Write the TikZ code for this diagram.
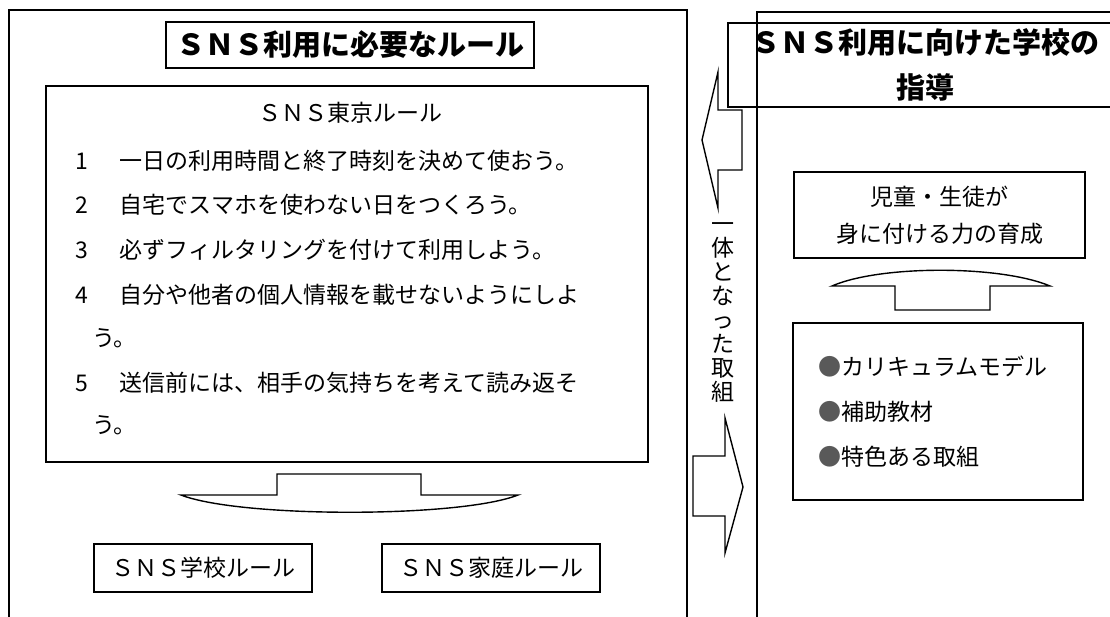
\documentclass[tikz,border=0pt]{standalone}
\usepackage{fontspec}
\setmainfont{Noto Sans CJK JP}
\tikzset{
  frame/.style={draw, line width=1.2pt},
  box/.style={draw, line width=1.2pt, inner sep=0pt},
  txt/.style={font=\fontsize{23}{28}\selectfont, inner sep=0pt},
  head/.style={font=\fontsize{29}{45}\selectfont\bfseries, inner sep=0pt},
  blockarrow/.style={draw, line width=1.4pt, line join=miter},
}

\begin{document}
\begin{tikzpicture}[x=1pt, y=-1pt]
    \useasboundingbox (0,0) rectangle (1110,616);
    \clip (0,0) rectangle (1110,616);
    % left panel
    \draw [frame] (9,10) rectangle (687,640);
    \node [box, head, minimum width=368pt, minimum height=46pt] (ruletitle) at (350,45) {ＳＮＳ利用に必要なルール};
    \node [box, minimum width=602pt, minimum height=376pt] (tokyo) at (347,274) {};
    \node [txt] (tokyotitle) at (350,113) {ＳＮＳ東京ルール};
    \node [txt, anchor=west] (rule1) at (75,161) {1\hspace*{9pt}　一日の利用時間と終了時刻を決めて使おう。};
    \node [txt, anchor=west] (rule2) at (75,205) {2\hspace*{9pt}　自宅でスマホを使わない日をつくろう。};
    \node [txt, anchor=west] (rule3) at (75,250) {3\hspace*{9pt}　必ずフィルタリングを付けて利用しよう。};
    \node [txt, anchor=west] (rule4) at (75,295) {4\hspace*{9pt}　自分や他者の個人情報を載せないようにしよ};
    \node [txt, anchor=west] (rule4b) at (92,338) {う。};
    \node [txt, anchor=west] (rule5) at (75,383) {5\hspace*{9pt}　送信前には、相手の気持ちを考えて読み返そ};
    \node [txt, anchor=west] (rule5b) at (92,425) {う。};
    \draw [blockarrow] (277,474) -- (421,474) -- (421,495) -- (518,495) .. controls (460,518) and (240,518) .. (181,495) -- (277,495) -- cycle;
    \node [box, txt, minimum width=218pt, minimum height=48pt] (school) at (203,568) {ＳＮＳ学校ルール};
    \node [box, txt, minimum width=218pt, minimum height=48pt] (home) at (491,568) {ＳＮＳ家庭ルール};
    % between the panels
    \draw [blockarrow] (742,110) -- (718,110) -- (718,72) -- (702,140) -- (718,208) -- (718,170) -- (742,170) -- cycle;
    \node [txt, align=center, font=\fontsize{23}{24}\selectfont] (together) at (723,312) {一\\体\\と\\な\\っ\\た\\取\\組};
    \draw [blockarrow] (693,456) -- (725,456) -- (725,418) -- (743,487) -- (725,553) -- (725,516) -- (693,516) -- cycle;
    % right panel
    \draw [frame] (757,1000) -- (757,12) -- (1200,12);
    \node [box, head, align=center, minimum width=394pt, minimum height=84pt] (guidetitle) at (925,65) {ＳＮＳ利用に向けた学校の\\指導};
    \node [box, txt, align=center, font=\fontsize{23}{37}\selectfont, minimum width=291pt, minimum height=86pt] (skills) at (939.5,215) {児童・生徒が\\身に付ける力の育成};
    \draw [blockarrow] (895,310) -- (895,286) -- (832,286) .. controls (880,265) and (1000,265) .. (1050,286) -- (990,286) -- (990,310) -- cycle;
    \node [box, minimum width=290pt, minimum height=177pt] (materials) at (938,411.5) {};
    \node [txt, anchor=west] (item1) at (818,367) {\textcolor{black!65}{●}カリキュラムモデル};
    \node [txt, anchor=west] (item2) at (818,412) {\textcolor{black!65}{●}補助教材};
    \node [txt, anchor=west] (item3) at (818,457) {\textcolor{black!65}{●}特色ある取組};
\end{tikzpicture}
\end{document}
